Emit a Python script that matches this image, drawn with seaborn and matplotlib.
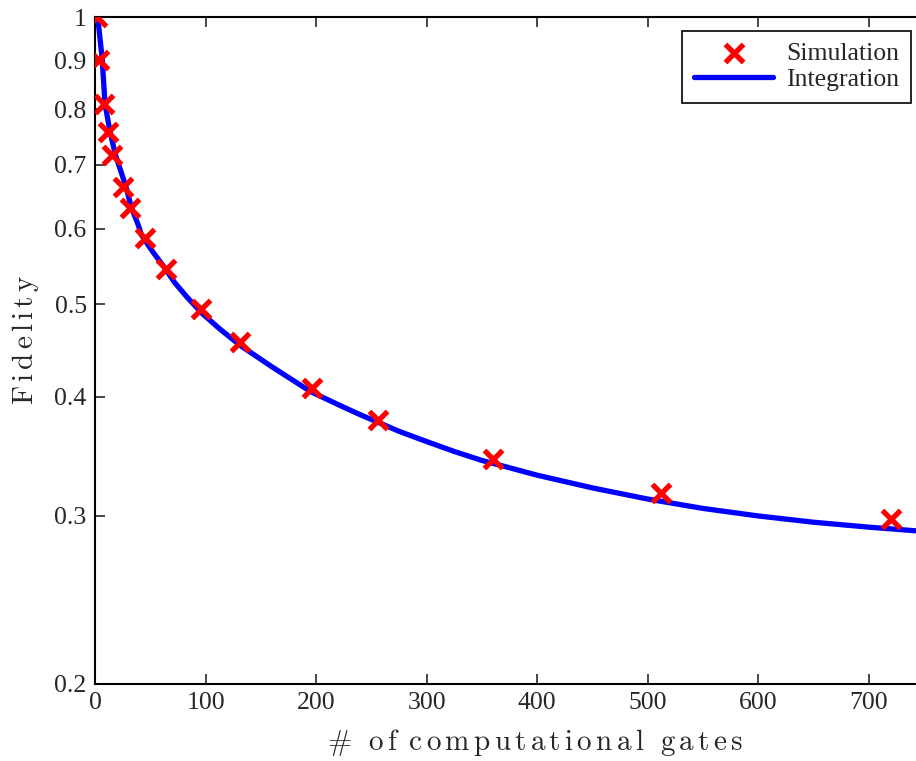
import matplotlib
matplotlib.use('Agg')
import matplotlib.pyplot as plt
import matplotlib.ticker as mticker
import seaborn as sns
import pandas as pd

sns.set_style('ticks')
plt.rcParams['font.family'] = ['Liberation Serif', 'DejaVu Serif']
plt.rcParams['mathtext.fontset'] = 'cm'

# simulation points
sim_gates = [1.5, 4, 8, 12, 15, 25, 32, 45, 64, 96, 131, 196, 256, 360, 512, 720]
sim_fid = [1.0, 0.902, 0.811, 0.758, 0.717, 0.664, 0.631, 0.586, 0.544, 0.494,
           0.456, 0.409, 0.378, 0.344, 0.317, 0.298]

# integration curve
int_gates = [2.5, 4.5, 6.5, 9, 13.5, 18.5, 28, 33, 39, 42, 52, 62, 72, 83, 97,
             112, 131, 160, 195, 225, 240, 255, 275, 300, 325, 350, 375, 400,
             450, 500, 550, 600, 650, 700, 750, 800]
int_fid = [1.0, 0.95, 0.904, 0.812, 0.759, 0.717, 0.664, 0.631, 0.606, 0.591,
           0.568, 0.548, 0.527, 0.509, 0.489, 0.472, 0.453, 0.430, 0.405, 0.390,
           0.383, 0.3765, 0.368, 0.359, 0.3505, 0.343, 0.337, 0.331, 0.321,
           0.3125, 0.3055, 0.300, 0.2955, 0.292, 0.289, 0.2865]

yticks = [0.2, 0.3, 0.4, 0.5, 0.6, 0.7, 0.8, 0.9, 1.0]
ytick_labels = ['0.2', '0.3', '0.4', '0.5', '0.6', '0.7', '0.8', '0.9', '1']

sim = pd.DataFrame({'gates': sim_gates, 'fidelity': sim_fid})
integ = pd.DataFrame({'gates': int_gates, 'fidelity': int_fid})

fig = plt.figure(figsize=(9.16, 7.61), dpi=100)
# the original axes runs past the right edge of the picture
ax = fig.add_axes([95/916, 77/761, 880/916, 667/761])

sns.lineplot(data=integ, x='gates', y='fidelity', color='#0000ff', lw=3.8,
             ax=ax, label='Integration', zorder=2)
sns.scatterplot(data=sim, x='gates', y='fidelity', marker='x', color='red',
                s=170, linewidth=3.8, ax=ax, label='Simulation', zorder=3)

ax.set_yscale('log')
ax.set_ylim(0.2, 1.0)
ax.set_xlim(0, 796)
ax.yaxis.set_major_locator(mticker.FixedLocator(yticks))
ax.yaxis.set_major_formatter(mticker.FixedFormatter(ytick_labels))
ax.yaxis.set_minor_locator(mticker.NullLocator())
ax.set_xticks([0, 100, 200, 300, 400, 500, 600, 700])

ax.tick_params(direction='in', length=7, width=1.2, labelsize=18.5,
               top=True, right=True, pad=6)
for sp in ax.spines.values():
    sp.set_linewidth(1.5)
    sp.set_color('black')

ax.set_xlabel(r'$\#\ \ \mathrm{o\,f\ \,c\,o\,m\,p\,u\,t\,a\,t\,i\,o\,n\,a\,l\ \ g\,a\,t\,e\,s}$',
              fontsize=21, labelpad=9)
ax.set_ylabel(r'$\mathrm{F\,i\,d\,e\,l\,i\,t\,y}$', fontsize=21)
ax.yaxis.set_label_coords(-0.061, 0.516)

handles, labels = ax.get_legend_handles_labels()
order = [labels.index('Simulation'), labels.index('Integration')]
leg = ax.legend([handles[i] for i in order], [labels[i] for i in order],
                loc='upper right', bbox_to_anchor=(911/916, 1 - 30.5/761),
                bbox_transform=fig.transFigure, fontsize=18.5, frameon=True,
                fancybox=False, edgecolor='black', framealpha=1,
                handlelength=3.1, borderpad=0.45, labelspacing=0.12,
                handletextpad=0.5, borderaxespad=0)
leg.get_frame().set_linewidth(1.2)

fig.savefig('out.png', dpi=100)
